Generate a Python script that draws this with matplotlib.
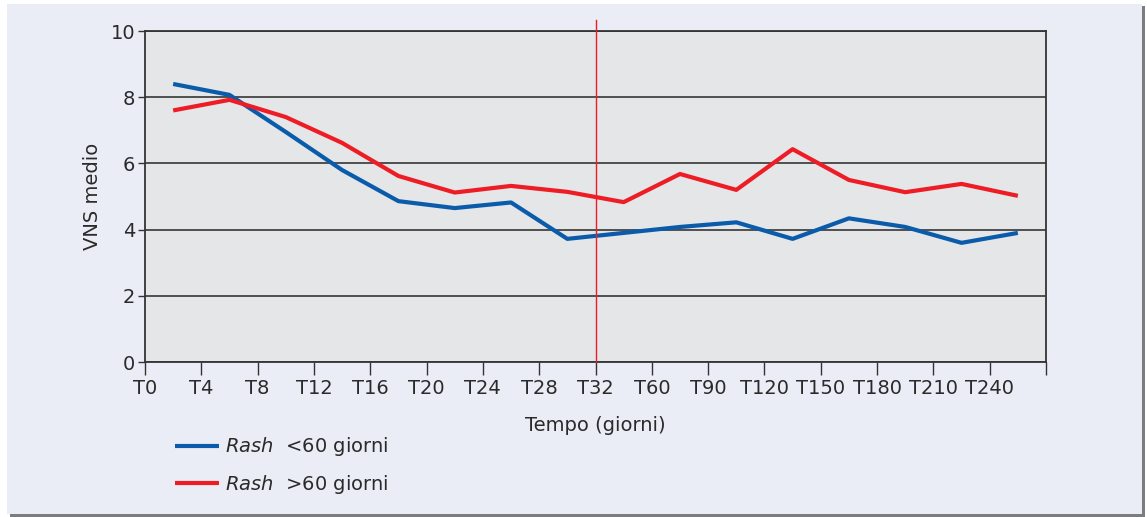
import numpy as np
import matplotlib.pyplot as plt
from matplotlib.patches import Rectangle

# categorical time points (label at each tick, data between ticks)
tick_labels = ["T0", "T4", "T8", "T12", "T16", "T20", "T24", "T28", "T32",
               "T60", "T90", "T120", "T150", "T180", "T210", "T240", ""]
rash_lt60 = [8.4, 8.07, 6.95, 5.8, 4.86, 4.65, 4.82, 3.72, 3.9,
             4.08, 4.22, 3.72, 4.34, 4.08, 3.6, 3.9]
rash_gt60 = [7.6, 7.92, 7.4, 6.62, 5.62, 5.12, 5.32, 5.14, 4.83,
             5.68, 5.2, 6.43, 5.5, 5.13, 5.38, 5.02]
cut_label = "T32"

W, H = 1147, 517
fig = plt.figure(figsize=(W / 100, H / 100), dpi=100, facecolor="white")

# panel background with shadow
fig.patches.append(Rectangle((10 / W, 0), 1135 / W, 511 / H, transform=fig.transFigure,
                             facecolor="#7b7c80", edgecolor="none", zorder=-3))
fig.patches.append(Rectangle((7 / W, 3 / H), 1135 / W, 510 / H, transform=fig.transFigure,
                             facecolor="#eaedf5", edgecolor="none", zorder=-2))

ax = fig.add_axes([145 / W, (H - 362) / H, (1046 - 145) / W, (362 - 31) / H])
ax.set_facecolor("#e5e6e8")

x = np.arange(len(rash_lt60)) + 0.5
l1, = ax.plot(x, rash_lt60, color="#0a5cab", lw=3.0, solid_capstyle="butt", zorder=3)
l2, = ax.plot(x, rash_gt60, color="#ee1c25", lw=3.0, solid_capstyle="butt", zorder=3)

ax.axvline(tick_labels.index(cut_label), ymin=0, ymax=1.034, color="#ee1c25",
           lw=1.0, clip_on=False, zorder=4)

ax.set_xlim(0, len(tick_labels) - 1)
ax.set_ylim(0, 10)
ax.set_xticks(range(len(tick_labels)))
ax.set_xticklabels(tick_labels)
ax.set_yticks([0, 2, 4, 6, 8, 10])
ax.yaxis.grid(True, color="#444444", lw=1.3)
ax.set_axisbelow(True)

for s in ax.spines.values():
    s.set_color("#333333")
    s.set_linewidth(1.3)

ax.tick_params(axis="x", length=9, width=1.0, color="#333333", labelsize=14,
               labelcolor="#2a2a2a", pad=3)
ax.tick_params(axis="y", length=5, width=1.0, color="#333333", labelsize=14,
               labelcolor="#2a2a2a", pad=2)

ax.set_xlabel("Tempo (giorni)", fontsize=14, color="#2a2a2a", labelpad=13)
ax.set_ylabel("VNS medio", fontsize=14, color="#2a2a2a", labelpad=6)

fig.legend([l1, l2], [r"$\it{Rash}$  <60 giorni", r"$\it{Rash}$  >60 giorni"],
           loc="upper left", bbox_to_anchor=(157 / W, (H - 418) / H),
           frameon=False, fontsize=14, handlelength=2.3, handletextpad=0.3,
           labelspacing=0.75, labelcolor="#2a2a2a")

fig.savefig("out.png", dpi=100, facecolor=fig.get_facecolor())
